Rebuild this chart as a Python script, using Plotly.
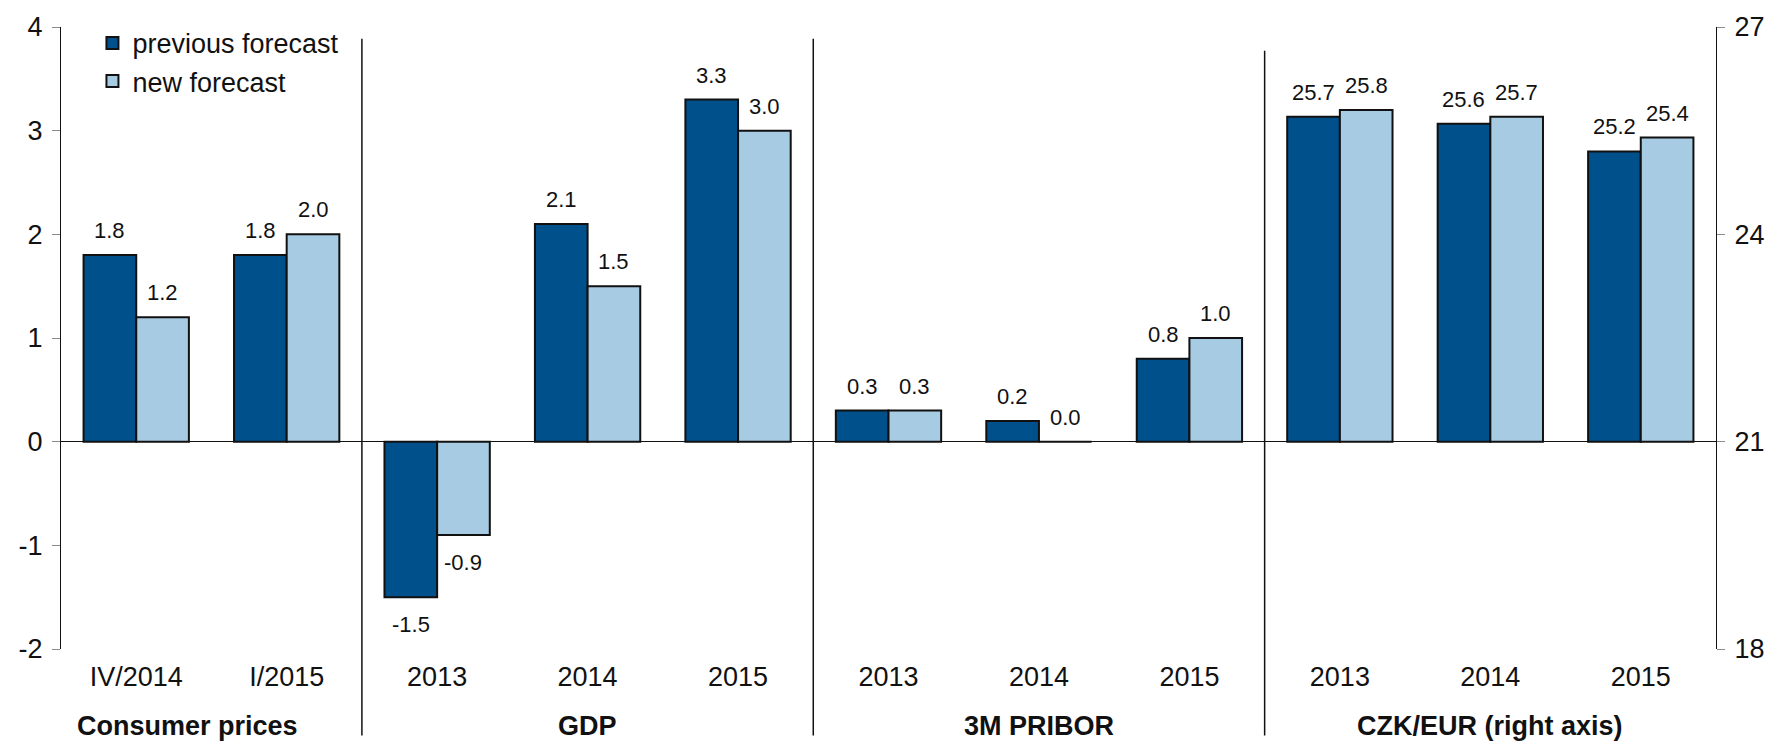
import plotly.graph_objects as go

# Category labels along the x axis (one slot per bar pair)
categories = ["IV/2014", "I/2015", "2013", "2014", "2015",
              "2013", "2014", "2015", "2013", "2014", "2015"]

# Left-axis series: consumer prices, GDP and 3M PRIBOR (%)
left_prev = [1.8, 1.8, -1.5, 2.1, 3.3, 0.3, 0.2, 0.8]
left_new = [1.2, 2.0, -0.9, 1.5, 3.0, 0.3, 0.0, 1.0]

# Right-axis series: CZK/EUR exchange rate
czk_prev = [25.7, 25.6, 25.2]
czk_new = [25.8, 25.7, 25.4]
czk_base = 21  # right-axis value aligned with the left-axis zero line

# Axis tick values and labels (plain hyphen for negatives)
left_ticks = [-2, -1, 0, 1, 2, 3, 4]
left_ticktext = ["-2", "-1", "0", "1", "2", "3", "4"]
right_ticks = [18, 21, 24, 27]

# Block titles under the category labels
group_titles = ["Consumer prices", "GDP", "3M PRIBOR", "CZK/EUR (right axis)"]
group_centers = [0.34, 3, 6, 9]
separators = [1.5, 4.5, 7.5]

DARK = "#00508c"
LIGHT = "#a6cbe3"
INK = "#111111"
FONT = "Liberation Sans, Arial, sans-serif"

left_x = list(range(len(left_prev)))
czk_x = list(range(len(left_prev), len(categories)))

fig = go.Figure()
outline = dict(color=INK, width=2)
fig.add_trace(go.Bar(x=left_x, y=left_prev, name="previous forecast",
                     marker=dict(color=DARK, line=outline),
                     legendgroup="prev"))
fig.add_trace(go.Bar(x=left_x, y=left_new, name="new forecast",
                     marker=dict(color=LIGHT, line=outline),
                     legendgroup="new"))
fig.add_trace(go.Bar(x=czk_x, y=[v - czk_base for v in czk_prev], base=czk_base,
                     name="previous forecast", yaxis="y2",
                     marker=dict(color=DARK, line=outline),
                     legendgroup="prev", showlegend=False))
fig.add_trace(go.Bar(x=czk_x, y=[v - czk_base for v in czk_new], base=czk_base,
                     name="new forecast", yaxis="y2",
                     marker=dict(color=LIGHT, line=outline),
                     legendgroup="new", showlegend=False))

# Value labels above (or below) each bar
half = 0.175
annotations = []


def value_label(x, v, yref, ref_zero):
    above = v >= ref_zero
    annotations.append(dict(
        x=x, y=v, xref="x", yref=yref, text=f"{v:.1f}", showarrow=False,
        yanchor="bottom" if above else "top",
        yshift=10 if above else -13,
        font=dict(family=FONT, size=22, color=INK)))


for i, (p, n) in enumerate(zip(left_prev, left_new)):
    value_label(left_x[i] - half, p, "y", 0)
    value_label(left_x[i] + half, n, "y", 0)
for i, (p, n) in enumerate(zip(czk_prev, czk_new)):
    value_label(czk_x[i] - half, p, "y2", czk_base)
    value_label(czk_x[i] + half, n, "y2", czk_base)

for title, cx in zip(group_titles, group_centers):
    annotations.append(dict(
        x=cx, y=0, xref="x", yref="paper", text=f"<b>{title}</b>",
        showarrow=False, yanchor="middle", yshift=-77,
        font=dict(family=FONT, size=27, color=INK)))

# Vertical separators between the blocks
shapes = []
sep_tops = [0.981, 0.981, 0.962]
for sx, top in zip(separators, sep_tops):
    shapes.append(dict(type="line", xref="x", yref="paper",
                       x0=sx, x1=sx, y0=-0.139, y1=top,
                       line=dict(color=INK, width=1.5)))

fig.update_layout(
    width=1785, height=747, autosize=False,
    margin=dict(l=61, r=69, t=25, b=98, pad=0),
    paper_bgcolor="white", plot_bgcolor="white",
    barmode="group", bargap=0.3, bargroupgap=0,
    font=dict(family=FONT, size=27, color=INK),
    showlegend=True,
    legend=dict(x=0.019, y=1.013, xanchor="left", yanchor="top",
                bgcolor="rgba(0,0,0,0)", font=dict(family=FONT, size=27, color=INK),
                tracegroupgap=0, itemwidth=30),
    annotations=annotations,
    shapes=shapes,
    xaxis=dict(range=[-0.5, len(categories) - 0.5],
               tickmode="array", tickvals=list(range(len(categories))),
               ticktext=categories, showline=False, ticks="",
               showgrid=False, zeroline=False, ticklabelstandoff=9,
               tickfont=dict(family=FONT, size=27, color=INK)),
    yaxis=dict(range=[-2, 4], tickmode="array", tickvals=left_ticks,
               ticktext=left_ticktext, showgrid=False,
               zeroline=True, zerolinecolor=INK, zerolinewidth=1.3,
               showline=True, linecolor=INK, linewidth=1.3,
               ticks="outside", ticklen=8, tickcolor="#8c8c8c", tickwidth=1,
               ticklabelstandoff=4,
               tickfont=dict(family=FONT, size=27, color=INK)),
    yaxis2=dict(range=[18, 27], tickmode="array", tickvals=right_ticks,
                overlaying="y", side="right",
                showgrid=False, zeroline=False,
                showline=True, linecolor=INK, linewidth=1.3,
                ticks="outside", ticklen=8, tickcolor="#8c8c8c", tickwidth=1,
                ticklabelstandoff=4,
                tickfont=dict(family=FONT, size=27, color=INK)),
)

fig.write_html("out.html")
